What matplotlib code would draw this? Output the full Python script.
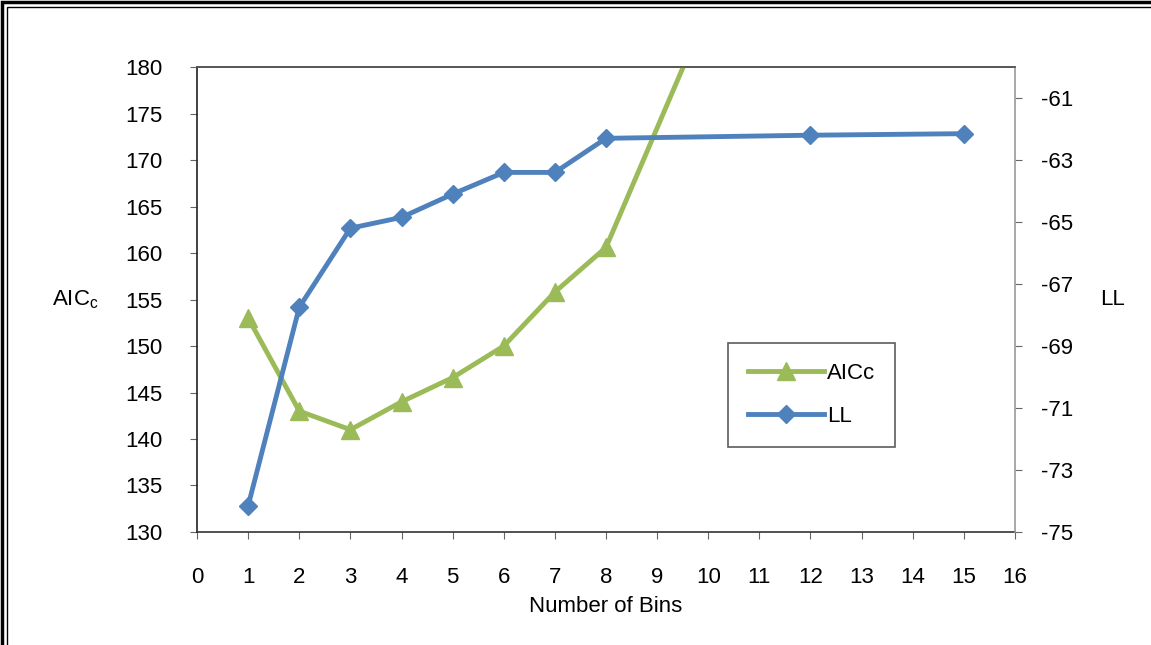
import matplotlib
matplotlib.use("Agg")
import matplotlib.pyplot as plt
from matplotlib.patches import Rectangle

plt.rcParams['font.family'] = ['Liberation Sans', 'DejaVu Sans']
plt.rcParams['axes.unicode_minus'] = False

# data
bins = [1, 2, 3, 4, 5, 6, 7, 8, 12, 15]
aicc = [153.0, 143.0, 141.0, 144.0, 146.6, 150.0, 155.8, 160.6, 212.0, 250.0]
ll = [-74.15, -67.75, -65.2, -64.85, -64.1, -63.4, -63.4, -62.3, -62.2, -62.15]

green = '#9BBB59'
blue = '#4F81BD'

fig = plt.figure(figsize=(11.51, 6.45), dpi=100)
ax = fig.add_axes([0.1712, 0.1752, 0.7106, 0.7209])
ax2 = ax.twinx()

l1, = ax.plot(bins, aicc, '-', color=green, lw=3.5, marker='^', ms=13,
              label='AICc', zorder=3)
l2, = ax2.plot(bins, ll, '-', color=blue, lw=3.5, marker='D', ms=9,
               label='LL', zorder=3)

ax.set_xlim(0, 16)
ax.set_ylim(130, 180)
ax2.set_ylim(-75, -60)
ax.set_xticks(range(0, 17))
ax.set_yticks(range(130, 181, 5))
ax2.set_yticks(range(-75, -60, 2))

for a in (ax, ax2):
    a.tick_params(labelsize=16, length=5, width=0.8, direction='out', colors='#666666',
                  labelcolor='black')
ax.tick_params(axis='x', pad=20)
ax.tick_params(axis='y', pad=20)
ax2.tick_params(axis='y', pad=14)

ax.spines['left'].set_color('#222222')
ax.spines['bottom'].set_color('#333333')
ax.spines['top'].set_color('#555555')
ax.spines['right'].set_visible(False)
ax2.spines['left'].set_visible(False)
ax2.spines['bottom'].set_visible(False)
ax2.spines['top'].set_color('#555555')
ax2.spines['right'].set_color('#999999')
for s in list(ax.spines.values()) + list(ax2.spines.values()):
    s.set_linewidth(1.2)

ax.set_xlabel('Number of Bins', fontsize=16, labelpad=6)
fig.text(75 / 1151, 1 - 300 / 645, r'AIC$_\mathregular{c}$', fontsize=16,
         ha='center', va='center')
fig.text(1112 / 1151, 1 - 300 / 645, 'LL', fontsize=16, ha='center', va='center')

leg = ax2.legend(handles=[l1, l2], loc='upper left',
                 bbox_to_anchor=((728 - 197) / 818, 1 - (343 - 67) / 465),
                 fontsize=16, frameon=True, fancybox=False, edgecolor='#333333',
                 borderpad=0.9, labelspacing=1.0, handlelength=3.4, handletextpad=0.15,
                 borderaxespad=0)
leg.get_frame().set_linewidth(1.2)

# double frame around the picture
fig.patches.append(Rectangle((2 / 1151, -0.05), 1.1, 1 - 2 / 645 + 0.05,
                             transform=fig.transFigure, fill=False,
                             edgecolor='black', lw=2.5))
fig.patches.append(Rectangle((7 / 1151, -0.05), 1.1, 1 - 7 / 645 + 0.05,
                             transform=fig.transFigure, fill=False,
                             edgecolor='black', lw=1))

fig.savefig('out.png', dpi=100)
